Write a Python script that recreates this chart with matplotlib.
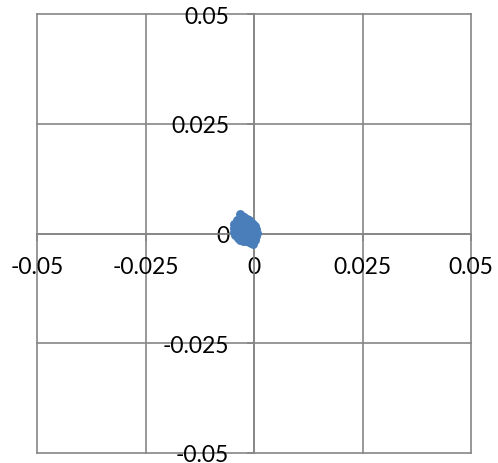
import matplotlib
matplotlib.use('agg')
import matplotlib.pyplot as plt

# scatter cluster around the origin
x_vals = [-0.0033, -0.0028, -0.0022, -0.0017, -0.0012, -0.0040, -0.0045, -0.0047,
          -0.0046, -0.0043, -0.0038, -0.0032, -0.0026, -0.0019, -0.0012, -0.0006,
          -0.0003, 0.0002, 0.0004, 0.0006, 0.0005, 0.0003, -0.0002, -0.0007,
          -0.0030, -0.0025, -0.0020, -0.0015, -0.0010, -0.0005, -0.0035, -0.0030,
          -0.0025, -0.0018, -0.0008, -0.0040, -0.0013, -0.0003, -0.0022]
y_vals = [0.0044, 0.0040, 0.0038, 0.0033, 0.0030, 0.0030, 0.0022, 0.0012,
          0.0004, -0.0004, -0.0010, -0.0014, -0.0016, -0.0017, -0.0020, -0.0022,
          -0.0025, -0.0014, -0.0006, 0.0002, 0.0010, 0.0016, 0.0022, 0.0026,
          0.0025, 0.0018, 0.0010, 0.0004, -0.0004, 0.0012, 0.0015, 0.0006,
          -0.0002, 0.0022, -0.0010, 0.0008, 0.0015, 0.0004, -0.0008]
ticks = [-0.05, -0.025, 0, 0.025, 0.05]
tick_labels = ['-0.05', '-0.025', '0', '0.025', '0.05']

GRID = '#868686'
BLUE = '#4A7EBB'

plt.rcParams['font.family'] = ['Lato', 'DejaVu Sans']

fig = plt.figure(figsize=(4.98, 4.64), dpi=100)
ax = fig.add_axes([37 / 498, 10 / 464, 434 / 498, 439 / 464])

ax.plot(x_vals, y_vals, linestyle='none', marker='o', markersize=5.4,
        color=BLUE, markeredgecolor=BLUE, zorder=3)

ax.set_xlim(-0.05, 0.05)
ax.set_ylim(-0.05, 0.05)
ax.set_xticks(ticks)
ax.set_yticks(ticks)
ax.set_xticklabels(tick_labels)
ax.set_yticklabels(tick_labels, va='center_baseline')

# axes cross at the origin
for side in ('top', 'right'):
    ax.spines[side].set_visible(False)
ax.spines['left'].set_position(('data', 0))
ax.spines['bottom'].set_position(('data', 0))
for side in ('left', 'bottom'):
    ax.spines[side].set_color(GRID)
    ax.spines[side].set_linewidth(1.2)

ax.grid(True, color=GRID, linewidth=1.2)
for line in ax.get_xgridlines() + ax.get_ygridlines():
    line.set_clip_on(False)
ax.set_axisbelow(True)

ax.tick_params(axis='both', direction='out', length=5, width=1.2, color=GRID,
               labelsize=16.5, labelcolor='black')
ax.tick_params(axis='x', pad=11)
ax.tick_params(axis='y', pad=13)

plt.savefig('out.png', dpi=100)
plt.close()
